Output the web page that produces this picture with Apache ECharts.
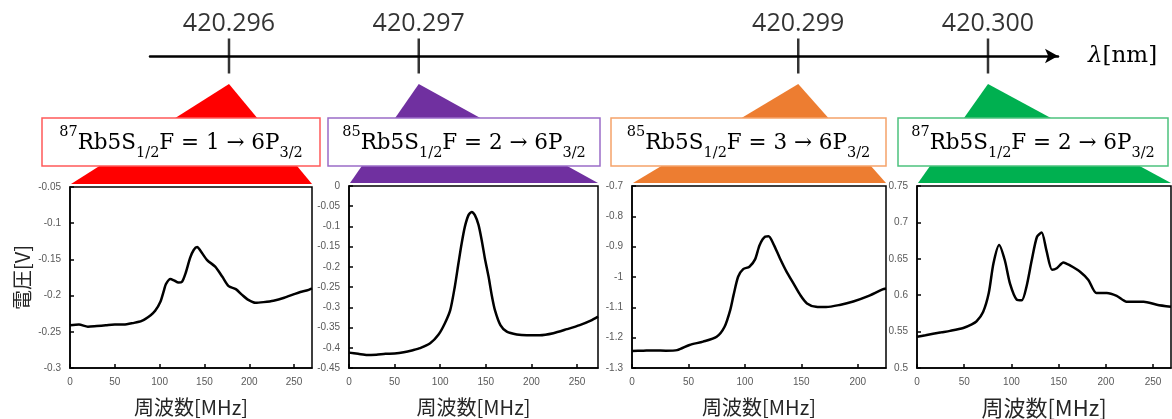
<!DOCTYPE html>
<html>
<head>
<meta charset="utf-8">
<script src="https://cdn.jsdelivr.net/npm/echarts@6/dist/echarts.min.js"></script>
<style>
  html, body { margin: 0; padding: 0; background: #fff; }
  #main { width: 1172px; height: 419px; }
</style>
</head>
<body>
<div id="main"></div>
<script>
// wavelength scale on top
var wavelengths = [420.296, 420.297, 420.299, 420.300];
var wavelengthLabels = ['420.296', '420.297', '420.299', '420.300'];
var colors = ['#ff0000', '#7030a0', '#ed7d31', '#00b050'];
var boxBorders = ['#ff5a5a', '#9b6cc8', '#f5a36a', '#4cc27e'];

// transition labels
var isotopes = ['87', '85', '85', '87'];
var fValues = ['1', '2', '3', '2'];

// spectra (frequency [MHz], voltage [V])
var freq1 = [0, 10, 20, 30, 40, 50, 60, 70, 80, 90, 95, 101, 105, 107, 112, 116, 121, 125, 129, 134, 138, 142, 145, 153, 162, 170, 177, 185, 192, 199, 207, 216, 227, 239, 250, 257, 264, 270];
var volt1 = [-0.241, -0.240, -0.243, -0.242, -0.241, -0.240, -0.240, -0.238, -0.235, -0.227, -0.221, -0.208, -0.192, -0.184, -0.177, -0.179, -0.182, -0.181, -0.169, -0.148, -0.137, -0.133, -0.137, -0.151, -0.160, -0.174, -0.187, -0.191, -0.199, -0.206, -0.210, -0.209, -0.207, -0.203, -0.198, -0.195, -0.193, -0.190];

var freq2 = [0, 10, 20, 30, 40, 50, 60, 70, 78, 89, 98, 105, 111, 116, 120, 123.5, 127, 131, 134.5, 138, 142, 145.5, 149, 153, 156.5, 160, 166, 173, 184, 195, 209, 224, 239, 253, 265, 273];
var volt2 = [-0.412, -0.415, -0.418, -0.417, -0.415, -0.414, -0.411, -0.406, -0.401, -0.389, -0.368, -0.340, -0.307, -0.249, -0.191, -0.142, -0.101, -0.072, -0.064, -0.072, -0.096, -0.134, -0.179, -0.224, -0.270, -0.307, -0.344, -0.360, -0.367, -0.369, -0.369, -0.364, -0.354, -0.344, -0.333, -0.323];

var freq3 = [0, 10, 20, 30, 40, 51, 63, 75, 82, 87, 90, 94, 98.5, 104, 109, 113, 118, 121, 125, 131, 137, 143, 149, 155, 163, 172, 184, 196, 208, 222, 225];
var volt3 = [-1.244, -1.243, -1.242, -1.243, -1.241, -1.224, -1.213, -1.197, -1.164, -1.109, -1.059, -0.999, -0.974, -0.966, -0.942, -0.895, -0.867, -0.866, -0.889, -0.938, -0.983, -1.021, -1.059, -1.087, -1.098, -1.099, -1.092, -1.081, -1.065, -1.041, -1.038];

var freq4 = [0, 9, 17, 26, 35, 49, 58, 63, 70, 76, 81, 87, 93, 98.5, 105.6, 111, 116, 121.5, 127, 132, 137, 143, 148, 155, 162, 173, 181.5, 190, 201, 211.5, 222, 240, 254, 269];
var volt4 = [0.543, 0.545, 0.547, 0.549, 0.551, 0.555, 0.560, 0.564, 0.577, 0.603, 0.644, 0.669, 0.648, 0.616, 0.594, 0.593, 0.612, 0.648, 0.680, 0.686, 0.662, 0.635, 0.637, 0.645, 0.641, 0.632, 0.621, 0.603, 0.603, 0.599, 0.591, 0.591, 0.587, 0.584];

var freqs = [freq1, freq2, freq3, freq4];
var volts = [volt1, volt2, volt3, volt4];

// axis ranges
var xMax = [270, 273, 225, 269];
var yMin = [-0.3, -0.45, -1.3, 0.5];
var yMax = [-0.05, 0, -0.7, 0.75];
var yStep = [0.05, 0.05, 0.1, 0.05];

// layout
var plotGrids = [
	{ left: 70, top: 187, width: 242, height: 181 },
	{ left: 349, top: 186, width: 249, height: 182 },
	{ left: 632, top: 186, width: 254, height: 182 },
	{ left: 917, top: 186, width: 254, height: 182 }
];
var labelBoxes = [
	{ x: 42, y: 118, w: 278, h: 48 },
	{ x: 328, y: 118, w: 272, h: 48 },
	{ x: 611, y: 118, w: 275, h: 48 },
	{ x: 898, y: 118, w: 270, h: 48 }
];

var chart = echarts.init(document.getElementById('main'));

var grids = [{ left: 150, top: 21, width: 908, height: 70, outerBoundsMode: 'none' }];
var xAxes = [{
	gridIndex: 0,
	type: 'value',
	min: 420.29558366,
	max: 420.3003689,
	axisLine: { onZero: true, lineStyle: { color: '#000', width: 2.5 }, symbol: ['none', 'arrow'], symbolSize: [11, 13] },
	axisTick: { show: false },
	axisLabel: { show: false },
	splitLine: { show: false },
	name: '{i|λ}[nm]',
	nameLocation: 'end',
	nameGap: 30,
	nameTextStyle: {
		fontFamily: 'DejaVu Serif', fontSize: 23, color: '#000',
		rich: { i: { fontFamily: 'DejaVu Serif', fontStyle: 'italic', fontSize: 23, color: '#000' } }
	}
}];
var yAxes = [{ gridIndex: 0, type: 'value', min: -1, max: 1, show: false }];

var series = [{
	type: 'custom',
	xAxisIndex: 0,
	yAxisIndex: 0,
	clip: false,
	z: 1,
	silent: true,
	data: wavelengths.map(function(w) { return [w, 0]; }),
	renderItem: function(params, api) {
		var i = params.dataIndex;
		var apex = api.coord([api.value(0), api.value(1)]);
		var g = plotGrids[i];
		return {
			type: 'polygon',
			shape: { points: [[apex[0], apex[1] + 28], [g.left + 1, g.top - 3], [g.left + g.width, g.top - 3]] },
			style: { fill: colors[i] }
		};
	}
}, {
	type: 'scatter',
	xAxisIndex: 0,
	yAxisIndex: 0,
	symbol: 'rect',
	symbolSize: [2.5, 35],
	itemStyle: { color: '#000' },
	silent: true,
	z: 3,
	data: wavelengths.map(function(w, i) { return { value: [w, 0], name: wavelengthLabels[i] }; }),
	label: {
		show: true,
		position: 'top',
		distance: 2,
		formatter: '{b}',
		fontFamily: 'Open Sans',
		fontSize: 25,
		color: '#000'
	}
}];

for (var i = 0; i < 4; i++) {
	var g = plotGrids[i];
	grids.push({
		left: g.left, top: g.top, width: g.width, height: g.height,
		show: true, borderColor: '#000', borderWidth: 1.5,
		outerBoundsMode: 'none'
	});
	xAxes.push({
		gridIndex: i + 1,
		type: 'value',
		min: 0,
		max: xMax[i],
		interval: 50,
		axisLine: { onZero: false, lineStyle: { color: '#000', width: 1.5 } },
		axisTick: { inside: true, length: 4, lineStyle: { color: '#000', width: 1.5 } },
		axisLabel: { fontFamily: 'Liberation Sans', fontSize: 10, color: '#595959', margin: 9, showMaxLabel: false },
		splitLine: { show: false },
		name: '周波数[MHz]',
		nameLocation: 'middle',
		nameGap: 29,
		nameTextStyle: { fontFamily: 'Noto Sans CJK JP', fontSize: i === 3 ? 22 : 20, color: '#262626' }
	});
	yAxes.push({
		gridIndex: i + 1,
		type: 'value',
		min: yMin[i],
		max: yMax[i],
		interval: yStep[i],
		axisLine: { onZero: false, lineStyle: { color: '#000', width: 1.5 } },
		axisTick: { inside: true, length: 4, lineStyle: { color: '#000', width: 1.5 } },
		axisLabel: { fontFamily: 'Liberation Sans', fontSize: 10, color: '#595959', margin: 9 },
		splitLine: { show: false },
		name: i === 0 ? '電圧[V]' : '',
		nameLocation: 'middle',
		nameRotate: 90,
		nameGap: 38,
		nameTextStyle: { fontFamily: 'Noto Sans CJK JP', fontSize: 20, color: '#262626' }
	});
	series.push({
		type: 'line',
		xAxisIndex: i + 1,
		yAxisIndex: i + 1,
		showSymbol: false,
		smooth: 0.25,
		silent: true,
		lineStyle: { color: '#000', width: 2.5 },
		data: freqs[i].map(function(f, k) { return [f, volts[i][k]]; })
	});
}

var graphics = [];
for (var j = 0; j < 4; j++) {
	var b = labelBoxes[j];
	graphics.push({
		type: 'rect',
		z: 100,
		shape: { x: b.x, y: b.y, width: b.w, height: b.h },
		style: { fill: '#fff', stroke: boxBorders[j], lineWidth: 1.5 }
	});
	graphics.push({
		type: 'text',
		z: 101,
		x: b.x + b.w / 2,
		y: b.y + b.h / 2 + 1,
		style: {
			text: '{sup|' + isotopes[j] + '}{m|Rb5S}{sub|1/2}{m|F = ' + fValues[j] + ' → 6P}{sub|3/2}',
			align: 'center',
			verticalAlign: 'middle',
			rich: {
				m: { fontFamily: 'DejaVu Serif', fontSize: 21.5, color: '#000', lineHeight: 36 },
				sup: { fontFamily: 'DejaVu Serif', fontSize: 14.5, color: '#000', verticalAlign: 'top', lineHeight: 16 },
				sub: { fontFamily: 'DejaVu Serif', fontSize: 14.5, color: '#000', verticalAlign: 'bottom', lineHeight: 16 }
			}
		}
	});
}

chart.setOption({
	backgroundColor: '#fff',
	animation: false,
	grid: grids,
	xAxis: xAxes,
	yAxis: yAxes,
	series: series,
	graphic: graphics
});
</script>
</body>
</html>
